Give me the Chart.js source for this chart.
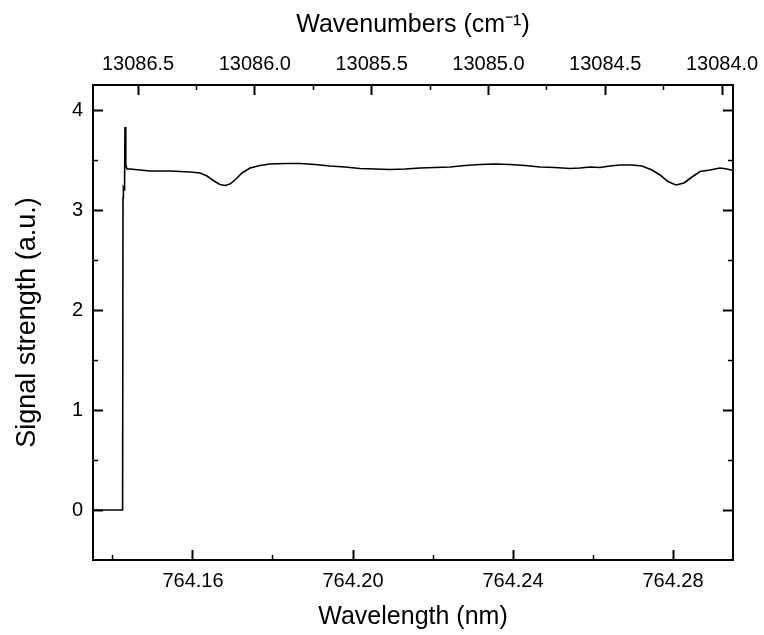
<!DOCTYPE html>
<html>
<head>
<meta charset="utf-8">
<script src="https://cdn.jsdelivr.net/npm/chart.js@4"></script>
<style>
html,body{margin:0;padding:0;background:#fff;}
#wrap{width:764px;height:635px;position:relative;}
</style>
</head>
<body>
<div id="wrap"><canvas id="c"></canvas></div>
<script>
// ---- data ----
const wavelength = [764.135, 764.1424, 764.1425, 764.1426, 764.1428, 764.1429, 764.1430, 764.1432, 764.1435,
  764.14425, 764.14675, 764.14925, 764.15175, 764.15425, 764.15675, 764.15925, 764.16175, 764.16350,
  764.16525, 764.16675, 764.16800, 764.16925, 764.17075, 764.17225, 764.17425, 764.17675, 764.17925,
  764.18300, 764.18675, 764.19050, 764.19425, 764.19800, 764.20175, 764.20550, 764.20925, 764.21300,
  764.21675, 764.22050, 764.22425, 764.22800, 764.23175, 764.23550, 764.23925, 764.24300, 764.24675,
  764.25050, 764.25425, 764.25675, 764.25925, 764.26175, 764.26425, 764.26675, 764.26975, 764.27225,
  764.27475, 764.27675, 764.27875, 764.28075, 764.28275, 764.28475, 764.28675, 764.28925, 764.29175,
  764.29350, 764.29500];
const signal = [0, 0, 3.12, 3.22, 3.20, 3.30, 3.83, 3.45, 3.41,
  3.41, 3.40, 3.39, 3.39, 3.39, 3.385, 3.38, 3.37, 3.34,
  3.29, 3.255, 3.245, 3.26, 3.31, 3.37, 3.42, 3.445, 3.46,
  3.465, 3.465, 3.455, 3.44, 3.43, 3.415, 3.41, 3.405, 3.41,
  3.42, 3.425, 3.43, 3.445, 3.455, 3.46, 3.455, 3.445, 3.43,
  3.425, 3.415, 3.42, 3.43, 3.425, 3.44, 3.45, 3.45, 3.44,
  3.40, 3.35, 3.285, 3.25, 3.27, 3.33, 3.385, 3.40, 3.42,
  3.41, 3.395];

const wlMin = 764.135, wlMax = 764.295;
const wlMajorTicks = [764.16, 764.20, 764.24, 764.28];
const wlMinorTicks = [764.14, 764.18, 764.22, 764.26];
const wnMajorTicks = [13086.5, 13086.0, 13085.5, 13085.0, 13084.5, 13084.0];
const wnMinorTicks = [13086.25, 13085.75, 13085.25, 13084.75, 13084.25];
const yMin = -0.5, yMax = 4.25;
const yMajorTicks = [0, 1, 2, 3, 4];
const yMinorTicks = [0.5, 1.5, 2.5, 3.5];

// ---- chart ----
const FONT = "'Liberation Sans', Arial, sans-serif";
const setTicks = arr => scale => { scale.ticks = arr.map(v => ({value: v})); };
const fixH = h => s => { s.height = h; s.paddingLeft = 0; s.paddingRight = 0; s.paddingTop = 0; s.paddingBottom = 0; };
const fixW = w => s => { s.width = w; s.paddingLeft = 0; s.paddingRight = 0; s.paddingTop = 0; s.paddingBottom = 0; };
const noGrid = (len, w) => ({drawOnChartArea: false, drawTicks: true, tickLength: len, tickWidth: w, tickColor: '#000'});

const points = wavelength.map((x, i) => ({x: x, y: signal[i]}));

new Chart(document.getElementById('c'), {
  type: 'line',
  data: {
    datasets: [{
      data: points,
      xAxisID: 'x',
      yAxisID: 'y',
      borderColor: '#000',
      borderWidth: 1.6,
      pointRadius: 0,
      tension: 0,
      fill: false
    }]
  },
  options: {
    responsive: true,
    maintainAspectRatio: false,
    animation: false,
    layout: {padding: 0},
    plugins: {legend: {display: false}, tooltip: {enabled: false}},
    scales: {
      x: {
        type: 'linear', position: 'bottom', min: wlMin, max: wlMax, weight: 0,
        afterBuildTicks: setTicks(wlMajorTicks), afterFit: fixH(75),
        grid: noGrid(-10, 2),
        border: {display: true, color: '#000', width: 2},
        ticks: {padding: 19, color: '#000', font: {family: FONT, size: 20}, maxRotation: 0, autoSkip: false,
          callback: v => Number(v).toFixed(2)},
        title: {display: true, text: 'Wavelength (nm)', color: '#000', font: {family: FONT, size: 25}, padding: {top: 0, bottom: 3}}
      },
      xMinor: {
        type: 'linear', position: 'bottom', min: wlMin, max: wlMax, weight: -1,
        afterBuildTicks: setTicks(wlMinorTicks), afterFit: fixH(0),
        grid: noGrid(-5, 1.5),
        border: {display: false},
        ticks: {display: false}
      },
      xTop: {
        type: 'linear', position: 'top', reverse: true, min: 1e7 / wlMax, max: 1e7 / wlMin, weight: 0,
        afterBuildTicks: setTicks(wnMajorTicks), afterFit: fixH(85),
        grid: noGrid(-10, 2),
        border: {display: true, color: '#000', width: 2},
        ticks: {padding: 19, color: '#000', font: {family: FONT, size: 20}, maxRotation: 0, autoSkip: false,
          callback: v => Number(v).toFixed(1)},
        title: {display: true, text: 'Wavenumbers (cm\u207B\u00B9)', color: '#000', font: {family: FONT, size: 25}, padding: {top: 10, bottom: 0}}
      },
      xTopMinor: {
        type: 'linear', position: 'top', reverse: true, min: 1e7 / wlMax, max: 1e7 / wlMin, weight: -1,
        afterBuildTicks: setTicks(wnMinorTicks), afterFit: fixH(0),
        grid: noGrid(-5, 1.5),
        border: {display: false},
        ticks: {display: false}
      },
      y: {
        type: 'linear', position: 'left', min: yMin, max: yMax, weight: 0,
        afterBuildTicks: setTicks(yMajorTicks), afterFit: fixW(93),
        grid: noGrid(-10, 2),
        border: {display: true, color: '#000', width: 2},
        ticks: {padding: 20, color: '#000', font: {family: FONT, size: 20}, callback: v => String(v)},
        title: {display: true, text: 'Signal strength (a.u.)', color: '#000', font: {family: FONT, size: 27}, padding: {top: 11, bottom: 0}}
      },
      yMinor: {
        type: 'linear', position: 'left', min: yMin, max: yMax, weight: -1,
        afterBuildTicks: setTicks(yMinorTicks), afterFit: fixW(0),
        grid: noGrid(-5, 1.5),
        border: {display: false},
        ticks: {display: false}
      },
      yRight: {
        type: 'linear', position: 'right', min: yMin, max: yMax, weight: 0,
        afterBuildTicks: setTicks(yMajorTicks), afterFit: fixW(31),
        grid: noGrid(-10, 2),
        border: {display: true, color: '#000', width: 2},
        ticks: {display: false}
      },
      yRightMinor: {
        type: 'linear', position: 'right', min: yMin, max: yMax, weight: -1,
        afterBuildTicks: setTicks(yMinorTicks), afterFit: fixW(0),
        grid: noGrid(-5, 1.5),
        border: {display: false},
        ticks: {display: false}
      }
    }
  }
});
</script>
</body>
</html>
